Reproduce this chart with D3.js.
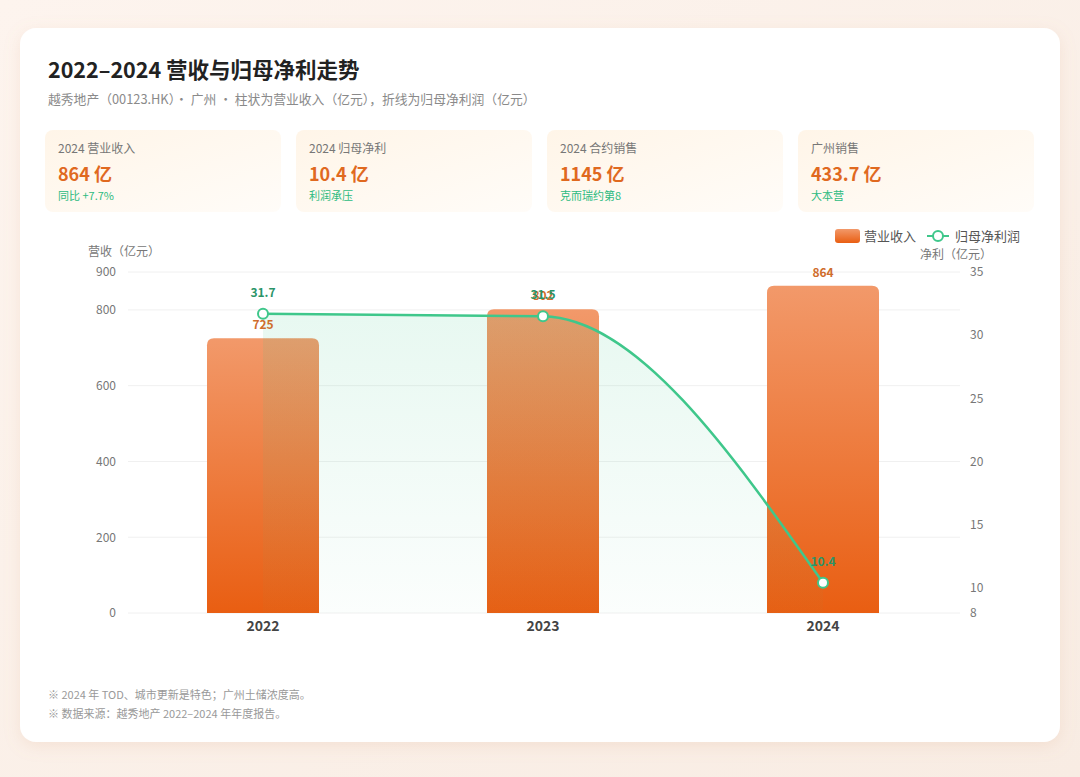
<!DOCTYPE html>
<html>
<head>
<meta charset="utf-8">
<script src="https://cdn.jsdelivr.net/npm/d3@7/dist/d3.min.js"></script>
<style>
  html, body { margin: 0; padding: 0; }
  body { width: 1080px; height: 777px; overflow: hidden; font-family: "Noto Sans CJK SC", "Noto Sans", sans-serif; }
</style>
</head>
<body>
<svg id="chart"></svg>
<script>
// data
const years = ['2022', '2023', '2024'];
const revenue = [725, 802, 864];
const netProfit = [31.7, 31.5, 10.4];
const leftTicks = [0, 200, 400, 600, 800, 900];
const rightTicks = [8, 10, 15, 20, 25, 30, 35];

const kpiLabels = ['2024 营业收入', '2024 归母净利', '2024 合约销售', '广州销售'];
const kpiValues = ['864 亿', '10.4 亿', '1145 亿', '433.7 亿'];
const kpiNotes = ['同比 +7.7%', '利润承压', '克而瑞约第8', '大本营'];

const notes = [
  '※ 2024 年 TOD、城市更新是特色；广州土储浓度高。',
  '※ 数据来源：越秀地产 2022–2024 年年度报告。'
];

const W = 1080, H = 777;
const svg = d3.select('#chart').attr('width', W).attr('height', H);
const defs = svg.append('defs');

// background
const bg = defs.append('linearGradient').attr('id', 'bg').attr('x1', 0).attr('y1', 0).attr('x2', 1).attr('y2', 1);
bg.append('stop').attr('offset', '0%').attr('stop-color', '#fdf4ee');
bg.append('stop').attr('offset', '100%').attr('stop-color', '#f8ece3');
svg.append('rect').attr('width', W).attr('height', H).attr('fill', 'url(#bg)');

const shadow = defs.append('filter').attr('id', 'shadow').attr('x', '-5%').attr('y', '-5%').attr('width', '110%').attr('height', '110%');
shadow.append('feDropShadow').attr('dx', 0).attr('dy', 4).attr('stdDeviation', 8)
  .attr('flood-color', '#d9a07a').attr('flood-opacity', 0.18);

svg.append('rect')
  .attr('x', 20).attr('y', 28).attr('width', 1040).attr('height', 714)
  .attr('rx', 16).attr('fill', '#ffffff').attr('filter', 'url(#shadow)');

// title
svg.append('text').attr('x', 48).attr('y', 78)
  .attr('font-size', 21.5).attr('font-weight', 700).attr('fill', '#222')
  .text('2022–2024 营收与归母净利走势');
svg.append('text').attr('x', 48).attr('y', 104)
  .attr('font-size', 12.8).attr('fill', '#8a8a8a')
  .text('越秀地产（00123.HK）· 广州 · 柱状为营业收入（亿元），折线为归母净利润（亿元）');

// kpi cards
const kg = defs.append('linearGradient').attr('id', 'kpiBg').attr('x1', 0).attr('y1', 0).attr('x2', 1).attr('y2', 1);
kg.append('stop').attr('offset', '0%').attr('stop-color', '#fff5e8');
kg.append('stop').attr('offset', '100%').attr('stop-color', '#fffcf8');

const cards = svg.append('g').selectAll('g')
  .data(kpiLabels)
  .enter()
  .append('g')
  .attr('transform', (d, i) => `translate(${45 + i * 251},130)`);

cards.append('rect')
  .attr('width', 236).attr('height', 82).attr('rx', 8)
  .attr('fill', 'url(#kpiBg)');
cards.append('text').attr('x', 13).attr('y', 23)
  .attr('font-size', 12).attr('fill', '#777')
  .text(d => d);
cards.append('text').attr('x', 13).attr('y', 51)
  .attr('font-size', 18).attr('font-weight', 700).attr('fill', '#e0691f')
  .text((d, i) => kpiValues[i]);
cards.append('text').attr('x', 13).attr('y', 70)
  .attr('font-size', 11).attr('fill', '#2dbb7f')
  .text((d, i) => kpiNotes[i]);

// scales
const plotLeft = 123, plotRight = 963, plotTop = 272, plotBottom = 613;

const x = d3.scaleBand()
  .domain(years)
  .range([plotLeft, plotRight])
  .paddingInner(0.6)
  .paddingOuter(0.3);

const yL = d3.scaleLinear().domain([0, 900]).range([plotBottom, plotTop]);
const yR = d3.scaleLinear().domain([8, 35]).range([plotBottom, plotTop]);

// grid
svg.append('g').selectAll('line')
  .data(leftTicks)
  .enter()
  .append('line')
  .attr('x1', plotLeft + 5).attr('x2', plotRight - 3)
  .attr('y1', d => yL(d)).attr('y2', d => yL(d))
  .attr('stroke', '#f0f0f0').attr('stroke-width', 1);

// axes
const axisL = svg.append('g')
  .attr('transform', `translate(${plotLeft - 5},0)`)
  .call(d3.axisLeft(yL).tickValues(leftTicks).tickSize(0).tickPadding(2));
axisL.select('.domain').remove();
axisL.selectAll('text').attr('font-size', 12).attr('fill', '#777').attr('font-family', '"Noto Sans CJK SC", sans-serif');

const axisR = svg.append('g')
  .attr('transform', `translate(${plotRight + 5},0)`)
  .call(d3.axisRight(yR).tickValues(rightTicks).tickSize(0).tickPadding(2));
axisR.select('.domain').remove();
axisR.selectAll('text').attr('font-size', 12).attr('fill', '#777').attr('font-family', '"Noto Sans CJK SC", sans-serif');

const axisX = svg.append('g')
  .attr('transform', `translate(0,${plotBottom})`)
  .call(d3.axisBottom(x).tickSize(0).tickPadding(8));
axisX.select('.domain').remove();
axisX.selectAll('text').attr('font-size', 14).attr('font-weight', 700).attr('fill', '#444').attr('font-family', '"Noto Sans CJK SC", sans-serif');

svg.append('text').attr('x', 88).attr('y', 256)
  .attr('font-size', 12).attr('fill', '#777').text('营收（亿元）');
svg.append('text').attr('x', 992).attr('y', 259).attr('text-anchor', 'end')
  .attr('font-size', 12).attr('fill', '#777').text('净利（亿元）');

// bars
const barGrad = defs.append('linearGradient').attr('id', 'barGrad').attr('x1', 0).attr('y1', 0).attr('x2', 0).attr('y2', 1);
barGrad.append('stop').attr('offset', '0%').attr('stop-color', '#f2996a');
barGrad.append('stop').attr('offset', '100%').attr('stop-color', '#e95e12');

const r = 7;
svg.append('g').selectAll('path')
  .data(revenue)
  .enter()
  .append('path')
  .attr('fill', 'url(#barGrad)')
  .attr('d', (d, i) => {
    const x0 = x(years[i]), w = x.bandwidth(), y0 = yL(d), y1 = yL(0);
    return `M${x0},${y1}V${y0 + r}Q${x0},${y0} ${x0 + r},${y0}H${x0 + w - r}Q${x0 + w},${y0} ${x0 + w},${y0 + r}V${y1}Z`;
  });

// area under line
const cx = (d, i) => x(years[i]) + x.bandwidth() / 2;
const areaGrad = defs.append('linearGradient').attr('id', 'areaGrad').attr('x1', 0).attr('y1', 0).attr('x2', 0).attr('y2', 1);
areaGrad.append('stop').attr('offset', '0%').attr('stop-color', '#3cc68a').attr('stop-opacity', 0.12);
areaGrad.append('stop').attr('offset', '100%').attr('stop-color', '#3cc68a').attr('stop-opacity', 0.02);

svg.append('path')
  .datum(netProfit)
  .attr('fill', 'url(#areaGrad)')
  .attr('d', d3.area().x(cx).y0(plotBottom).y1(d => yR(d)).curve(d3.curveMonotoneX));

svg.append('path')
  .datum(netProfit)
  .attr('fill', 'none').attr('stroke', '#3fc78b').attr('stroke-width', 2.5)
  .attr('d', d3.line().x(cx).y(d => yR(d)).curve(d3.curveMonotoneX));

// bar labels
svg.append('g').selectAll('text')
  .data(revenue)
  .enter()
  .append('text')
  .attr('x', (d, i) => cx(d, i)).attr('y', d => yL(d) - 9)
  .attr('text-anchor', 'middle')
  .attr('font-size', 12).attr('font-weight', 700).attr('fill', '#cf6d2c')
  .text(d => d);

// points
svg.append('g').selectAll('circle')
  .data(netProfit)
  .enter()
  .append('circle')
  .attr('cx', cx).attr('cy', d => yR(d)).attr('r', 5)
  .attr('fill', '#fff').attr('stroke', '#3fc78b').attr('stroke-width', 2);

svg.append('g').selectAll('text')
  .data(netProfit)
  .enter()
  .append('text')
  .attr('x', cx).attr('y', d => yR(d) - 17)
  .attr('text-anchor', 'middle')
  .attr('font-size', 12).attr('font-weight', 700).attr('fill', '#2a9468')
  .text(d => d);

// legend
const lg = svg.append('g');
lg.append('rect').attr('x', 835).attr('y', 229).attr('width', 25).attr('height', 14).attr('rx', 3)
  .attr('fill', 'url(#barGrad)');
lg.append('text').attr('x', 864).attr('y', 241).attr('font-size', 13).attr('fill', '#555').text('营业收入');
lg.append('line').attr('x1', 927).attr('x2', 949).attr('y1', 236).attr('y2', 236)
  .attr('stroke', '#3fc78b').attr('stroke-width', 2);
lg.append('circle').attr('cx', 938).attr('cy', 236).attr('r', 5)
  .attr('fill', '#fff').attr('stroke', '#3fc78b').attr('stroke-width', 2);
lg.append('text').attr('x', 955).attr('y', 241).attr('font-size', 13).attr('fill', '#555').text('归母净利润');

// footnotes
svg.append('g').selectAll('text')
  .data(notes)
  .enter()
  .append('text')
  .attr('x', 48).attr('y', (d, i) => 699 + i * 19)
  .attr('font-size', 11).attr('fill', '#999')
  .text(d => d);
</script>
</body>
</html>
